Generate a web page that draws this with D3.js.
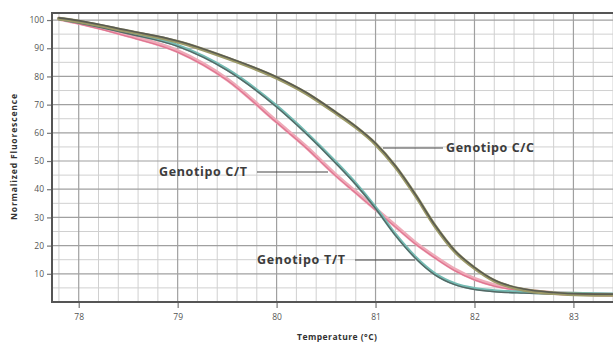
<!DOCTYPE html>
<html><head><meta charset="utf-8">
<script src="https://cdn.jsdelivr.net/npm/d3@7"></script>
<style>html,body{margin:0;padding:0;background:#fff;}svg{display:block;}</style>
</head><body>
<script>
// Temperature (°C) sample points
const temps = [77.8, 78.0, 78.5, 79.0, 79.5, 80.0, 80.3, 80.6, 80.8, 81.0, 81.2, 81.4, 81.6, 81.8, 82.0, 82.2, 82.5, 82.8, 83.1, 83.4];
// Normalized fluorescence per genotype
const cc = [100.5, 99.5, 96, 92.3, 86.5, 79.5, 74, 67, 62, 56, 48, 38, 27, 18, 12, 7.5, 4.3, 3.1, 2.6, 2.5];
const tt = [100.5, 99.3, 95.5, 91, 82.5, 69.5, 60, 49.5, 42, 33.5, 24, 16, 10, 6.5, 4.8, 4.0, 3.5, 3.2, 3.0, 2.8];
const ct = [100.5, 99, 94.5, 89, 79, 64, 55, 45, 39, 33, 27, 21, 16, 11.5, 8.2, 6, 4.2, 3.2, 2.8, 2.6];
const xTicks = [78, 79, 80, 81, 82, 83];
const yTicks = [10, 20, 30, 40, 50, 60, 70, 80, 90, 100];
const labels = ["Genotipo C/C", "Genotipo C/T", "Genotipo T/T"];

const W = 613, H = 344;
const svg = d3.select("body").append("svg").attr("width", W).attr("height", H);
const x = d3.scaleLinear().domain([77.73, 83.4]).range([52, 613]);
const y = d3.scaleLinear().domain([0, 102.5]).range([302, 13]);

const g = svg.append("g");
// minor grid
const minorX = d3.range(77.8, 83.41, 0.2).filter(v => Math.abs(v - Math.round(v)) > 0.01);
const minorY = d3.range(5, 101, 10);
g.selectAll(".mx").data(minorX).join("line")
  .attr("x1", d => x(d)).attr("x2", d => x(d)).attr("y1", y.range()[1]).attr("y2", y.range()[0])
  .attr("stroke", "#d0d0d0").attr("stroke-width", 1);
g.selectAll(".my").data(minorY).join("line")
  .attr("x1", 52).attr("x2", 613).attr("y1", d => y(d)).attr("y2", d => y(d))
  .attr("stroke", "#d0d0d0").attr("stroke-width", 1);
// major grid
g.selectAll(".Mx").data(xTicks).join("line")
  .attr("x1", d => x(d)).attr("x2", d => x(d)).attr("y1", 13).attr("y2", 302)
  .attr("stroke", "#a0a0a0").attr("stroke-width", 1.2);
g.selectAll(".My").data(yTicks).join("line")
  .attr("x1", 52).attr("x2", 613).attr("y1", d => y(d)).attr("y2", d => y(d))
  .attr("stroke", "#a0a0a0").attr("stroke-width", 1.2);

// axes
const ax = svg.append("g").attr("transform", "translate(0,302)")
  .call(d3.axisBottom(x).tickValues(xTicks).tickSize(6).tickPadding(6).tickFormat(d3.format("d")));
const ay = svg.append("g").attr("transform", "translate(52,0)")
  .call(d3.axisLeft(y).tickValues(yTicks).tickSize(5).tickPadding(3).tickFormat(d3.format("d")));
[ax, ay].forEach(a => {
  a.select(".domain").remove();
  a.selectAll(".tick line").attr("stroke", "#777").attr("stroke-width", 1.2);
  a.selectAll(".tick text").attr("fill", "#555").style("font-family", "Open Sans, sans-serif").style("font-size", "8.5px");
});

// frame
svg.append("rect").attr("x", 52).attr("y", 13).attr("width", 600).attr("height", 289)
  .attr("fill", "none").attr("stroke", "#555").attr("stroke-width", 2);

// curves
const line = d3.line().x((d, i) => x(temps[i])).y(d => y(d)).curve(d3.curveMonotoneX);
const styles = [
  {data: ct, outer: "#eeaab8", inner: "#e07591", wo: 4, wi: 1.3, dy: 1},
  {data: tt, outer: "#74bbb3", inner: "#556865", wo: 3.2, wi: 1.4, dy: 1},
  {data: cc, outer: "#9c9a68", inner: "#5a5b52", wo: 3.6, wi: 1.6, dy: -0.8}
];
styles.forEach(s => {
  svg.append("path").attr("d", line(s.data)).attr("fill", "none")
    .attr("stroke", s.outer).attr("stroke-width", s.wo).attr("stroke-linecap", "round");
  svg.append("path").attr("d", line(s.data)).attr("fill", "none")
    .attr("transform", `translate(0,${s.dy})`)
    .attr("stroke", s.inner).attr("stroke-width", s.wi).attr("stroke-linecap", "round");
});

// annotations
const ann = [
  {t: labels[0], lx1: 383, lx2: 443, ly: 148, tx: 446},
  {t: labels[1], lx1: 257, lx2: 328, ly: 172, tx: 159},
  {t: labels[2], lx1: 355, lx2: 415, ly: 260, tx: 257}
];
ann.forEach(a => {
  svg.append("line").attr("x1", a.lx1).attr("x2", a.lx2).attr("y1", a.ly).attr("y2", a.ly)
    .attr("stroke", "#444").attr("stroke-width", 1.2);
  svg.append("text").attr("x", a.tx).attr("y", a.ly + 1).attr("dominant-baseline", "middle")
    .attr("fill", "#3c3c3c").style("font-family", "Open Sans, sans-serif").style("font-weight", "bold")
    .style("font-size", "12.5px").attr("textLength", 88).text(a.t);
});

// axis titles
svg.append("text").attr("x", 337).attr("y", 340).attr("text-anchor", "middle")
  .attr("fill", "#333").style("font-family", "Open Sans, sans-serif").style("font-weight", "bold")
  .style("font-size", "8.5px").attr("textLength", 80).text("Temperature (°C)");
svg.append("text").attr("transform", "translate(17,157) rotate(-90)").attr("text-anchor", "middle")
  .attr("fill", "#333").style("font-family", "Open Sans, sans-serif").style("font-weight", "bold")
  .style("font-size", "8.5px").attr("textLength", 126).text("Normalized Fluorescence");
</script>
</body></html>
